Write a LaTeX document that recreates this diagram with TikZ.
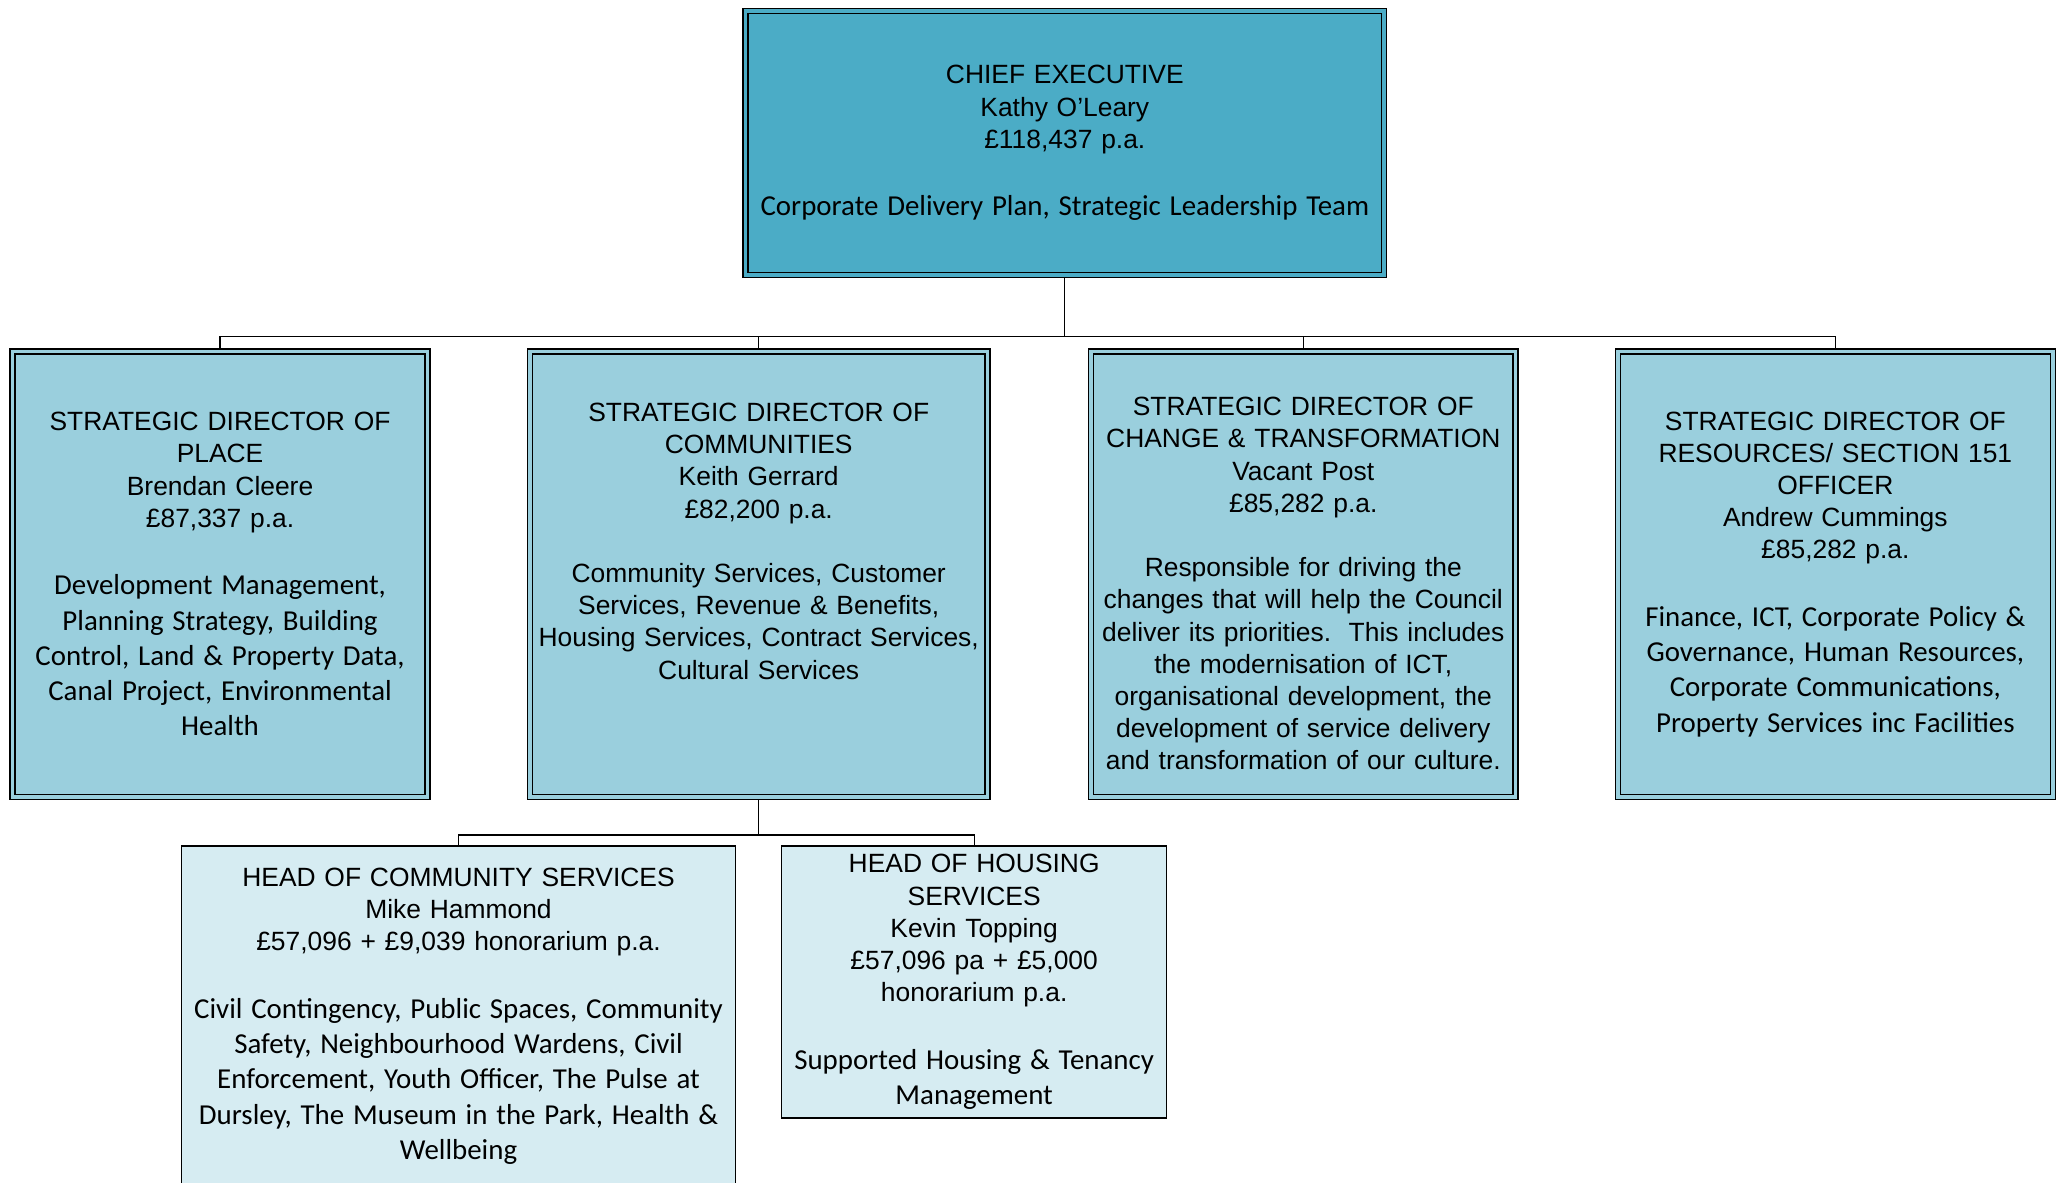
\documentclass[tikz,border=0pt]{standalone}
\usepackage{fontspec}
\setmainfont{Liberation Sans}
\newfontfamily\calfont{Carlito}
\usetikzlibrary{positioning,calc}
\definecolor{ceofill}{HTML}{4BACC6}
\definecolor{dirfill}{HTML}{9ACFDD}
\definecolor{headfill}{HTML}{D6ECF2}
\newcommand\rolefont{\fontsize{10.05pt}{12.25pt}\selectfont}
\newcommand\dutyfont{\calfont\fontsize{11pt}{13.4pt}\selectfont}
\newcommand\dutygap{\par\vskip12.35pt}
\newcommand\rolegap{\par\vskip12.25pt}

\begin{document}
\begin{tikzpicture}[x=0.5pt, y=-0.5pt,
    orgbox/.style={rectangle, align=center, inner sep=0pt, font=\rolefont,
      minimum width=#1, text width=#1},
    dirbox/.style={orgbox=#1, draw=black, line width=0.55pt,
      double distance=1.35pt, outer sep=1.2pt},
    ceobox/.style={dirbox=#1, fill=ceofill, double=ceofill},
    sdbox/.style={dirbox=#1, fill=dirfill, double=dirfill},
    hdbox/.style={orgbox=#1, draw=black, line width=0.5pt, fill=headfill},
    link/.style={draw=black, line width=0.45pt}]
  \clip (0,0) rectangle (1568,900);

  \node[ceobox=243pt, minimum height=100.5pt] (ceo) at (810.5,109)
    {CHIEF EXECUTIVE\\Kathy O’Leary\\£118,437 p.a.\dutygap
     {\dutyfont Corporate Delivery Plan, Strategic Leadership Team\par}};

  \node[sdbox=158pt, minimum height=169.5pt] (place) at (167.5,437)
    {STRATEGIC DIRECTOR OF\\PLACE\\Brendan Cleere\\£87,337 p.a.\dutygap
     {\dutyfont Development Management,\\Planning Strategy, Building\\
      Control, Land \& Property Data,\\Canal Project, Environmental\\Health\par}};
  \node[sdbox=174pt, minimum height=169.5pt] (comm) at (577.5,437)
    {STRATEGIC DIRECTOR OF\\COMMUNITIES\\Keith Gerrard\\£82,200 p.a.\rolegap
     Community Services, Customer\\Services, Revenue \& Benefits,\\
     Housing Services, Contract Services,\\Cultural Services\par
     \vskip25pt\nointerlineskip\hbox{}};
  \node[sdbox=161.5pt, minimum height=169.5pt] (change) at (992,437)
    {\vskip2pt STRATEGIC DIRECTOR OF\\CHANGE \& TRANSFORMATION\\Vacant Post\\
     £85,282 p.a.\rolegap
     Responsible for driving the\\changes that will help the Council\\
     deliver its priorities.\ \ This includes\\the modernisation of ICT,\\
     organisational development, the\\development of service delivery\\
     and transformation of our culture.};
  \node[sdbox=165.5pt, minimum height=169.5pt] (res) at (1397,437)
    {STRATEGIC DIRECTOR OF\\RESOURCES/ SECTION 151\\OFFICER\\Andrew Cummings\\
     £85,282 p.a.\dutygap
     {\dutyfont Finance, ICT, Corporate Policy \&\\Governance, Human Resources,\\
      Corporate Communications,\\Property Services inc Facilities\par}};

  \node[hdbox=211pt, minimum height=129.5pt] (comsvc) at (349,773.5)
    {HEAD OF COMMUNITY SERVICES\\Mike Hammond\\
     £57,096 + £9,039 honorarium p.a.\dutygap
     {\dutyfont Civil Contingency, Public Spaces, Community\\
      Safety, Neighbourhood Wardens, Civil\\Enforcement, Youth Officer, The Pulse at\\
      Dursley, The Museum in the Park, Health \&\\Wellbeing\par}};
  \node[hdbox=146.5pt, minimum height=103.5pt] (housing) at (741.5,747.5)
    {HEAD OF HOUSING\\SERVICES\\Kevin Topping\\£57,096 pa + £5,000\\
     honorarium p.a.\dutygap
     {\dutyfont Supported Housing \& Tenancy\\Management\par}};

  \coordinate (topbus) at (810.5,256);
  \coordinate (lowbus) at (577.5,635.5);
  \draw[link] (ceo.south) -- (ceo.south |- topbus);
  \draw[link] (place.north |- topbus) -- (res.north |- topbus);
  \foreach \n in {place,comm,change,res}
    \draw[link] (\n.north) -- (\n.north |- topbus);
  \draw[link] (comm.south) -- (comm.south |- lowbus);
  \draw[link] (comsvc.north) -- (comsvc.north |- lowbus)
    -- (housing.north |- lowbus) -- (housing.north);
\end{tikzpicture}
\end{document}
